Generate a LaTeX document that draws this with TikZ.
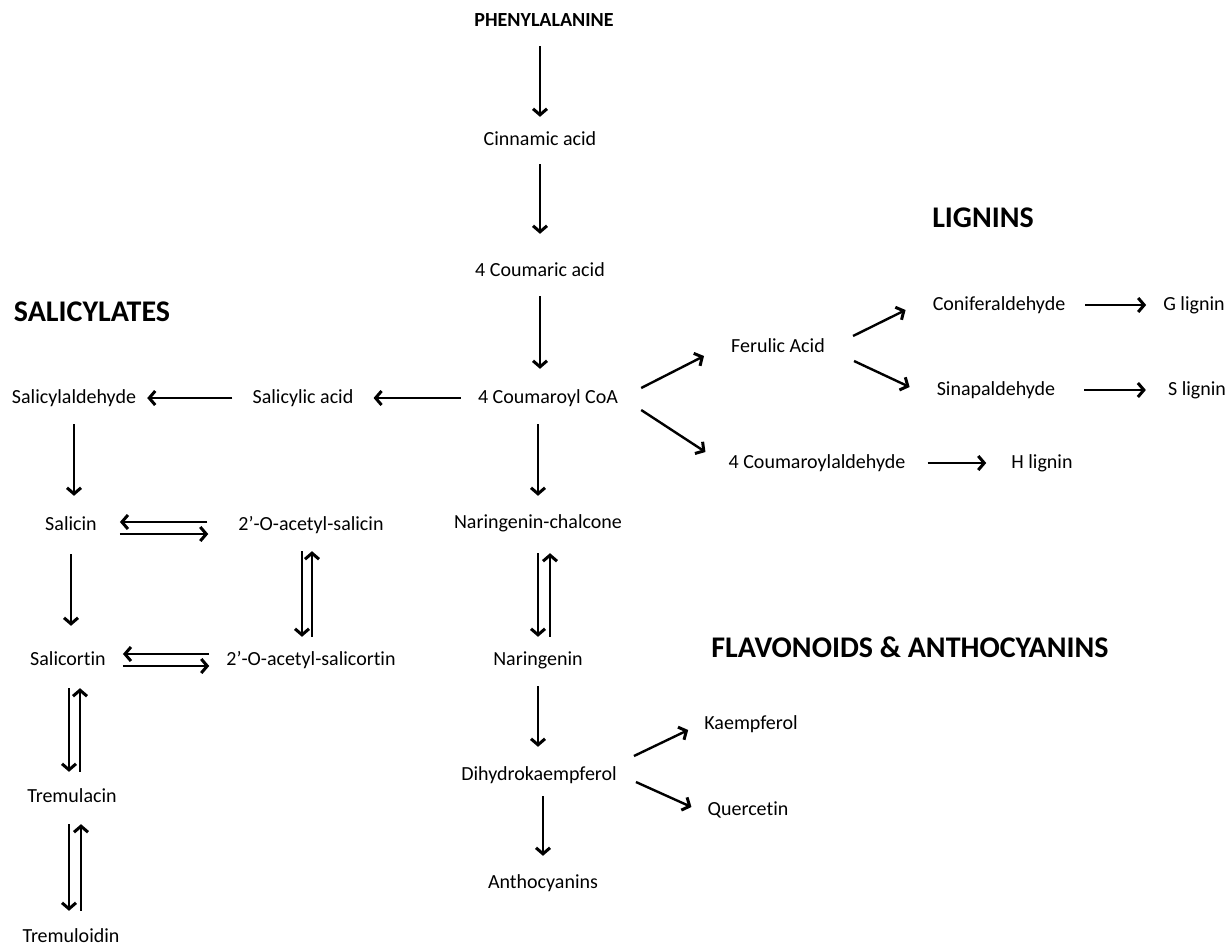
\documentclass[tikz,border=0pt]{standalone}
\usepackage{fontspec}
\setmainfont{Carlito}[Ligatures=NoCommon]
\usetikzlibrary{arrows.meta}

\begin{document}
\begin{tikzpicture}[x=0.5pt,y=-0.5pt,->,>={Straight Barb[length=3pt,width=7pt,line width=1.5pt]},
   line width=1.2pt,
   chem/.style={inner sep=0pt,text height=7pt,text depth=2pt,font=\fontsize{10}{12}\selectfont},
   head/.style={inner sep=0pt,font=\fontsize{15}{18}\selectfont\bfseries}]
\useasboundingbox (0,0) rectangle (1230,947);
% main column
\node[chem,font=\fontsize{10}{12}\selectfont\bfseries] (phe) at (544,22) {PHENYLALANINE};
\node[chem] (cin) at (540,140) {Cinnamic acid};
\node[chem] (coum) at (540,271) {4 Coumaric acid};
\node[chem] (coa) at (548,398) {4 Coumaroyl CoA};
% salicylates
\node[head] (salh) at (92,312) {SALICYLATES};
\node[chem] (salac) at (303,398) {Salicylic acid};
\node[chem] (salald) at (74,398) {Salicylaldehyde};
\node[chem] (salicin) at (71,525) {Salicin};
\node[chem] (acsal) at (311,525) {2’-O-acetyl-salicin};
\node[chem] (salcor) at (68,660) {Salicortin};
\node[chem] (acsalcor) at (311,660) {2’-O-acetyl-salicortin};
\node[chem] (tremla) at (72,797) {Tremulacin};
\node[chem] (tremld) at (71,937) {Tremuloidin};
% lignins
\node[head] (ligh) at (983,218) {LIGNINS};
\node[chem] (fer) at (778,347) {Ferulic Acid};
\node[chem] (conif) at (999,305) {Coniferaldehyde};
\node[chem] (glig) at (1194,305) {G lignin};
\node[chem] (sinap) at (996,390) {Sinapaldehyde};
\node[chem] (slig) at (1197,390) {S lignin};
\node[chem] (cald) at (817,463) {4 Coumaroylaldehyde};
\node[chem] (hlig) at (1042,463) {H lignin};
% flavonoids
\node[head] (flah) at (910,647) {FLAVONOIDS \& ANTHOCYANINS};
\node[chem] (narch) at (538,523) {Naringenin-chalcone};
\node[chem] (nar) at (538,660) {Naringenin};
\node[chem] (dhk) at (539,775) {Dihydrokaempferol};
\node[chem] (antho) at (543,883) {Anthocyanins};
\node[chem] (kaem) at (751,724) {Kaempferol};
\node[chem] (quer) at (748,810) {Quercetin};

\path
 (cin.north |- phe.south) edge[shorten <=7pt,shorten >=6.5pt] (cin.north)
 (cin.south) edge[shorten <=7pt,shorten >=13.5pt] (coum.north)
 (coum.south) edge[shorten <=7.5pt,shorten >=9.5pt] (coum.south |- coa.north)
 (coa.west) edge[shorten <=8pt,shorten >=9.5pt] (salac.east)
 (salac.west) edge[shorten <=9.5pt,shorten >=5pt] (salald.east)
 (narch.north |- coa.south) edge[shorten <=8pt,shorten >=8.5pt] (narch.north)
 ([xshift=11pt,yshift=5pt]coa.east) edge ([xshift=-13pt,yshift=-4.5pt]fer.west)
 ([xshift=11pt,yshift=-6pt]coa.east) edge ([xshift=-11pt,yshift=5.5pt]cald.west);
% lignin branch
\path
 ([xshift=13.5pt,yshift=5.5pt]fer.east) edge ([xshift=-13pt,yshift=-2.5pt]conif.west)
 ([xshift=14pt,yshift=-7pt]fer.east) edge ([xshift=-13pt,yshift=1.5pt]sinap.west)
 (conif) edge[shorten <=9.5pt,shorten >=8pt] (glig)
 (sinap) edge[shorten <=14pt,shorten >=10.5pt] (slig)
 (cald) edge[shorten <=10.5pt,shorten >=12pt] (hlig);
% salicylate branch
\path
 (salald.south) edge[shorten <=8pt,shorten >=9.5pt] (salald.south |- salicin.north)
 (salicin.south) edge[shorten <=9.5pt,shorten >=12pt] (salicin.south |- salcor.north)
 ([yshift=1.5pt]acsal.west) edge[shorten <=15pt,shorten >=11pt] ([yshift=1.5pt]salicin.east)
 ([yshift=-4.5pt]salicin.east) edge[shorten <=11pt,shorten >=14.5pt] ([yshift=-4.5pt]acsal.west)
 ([xshift=-4.5pt]acsal.south) edge[shorten <=8pt,shorten >=6.5pt] ([xshift=-4.5pt]acsalcor.north)
 ([xshift=0.5pt]acsalcor.north) edge[shorten <=6.5pt,shorten >=8pt] ([xshift=0.5pt]acsal.south)
 ([yshift=3pt]acsalcor.west) edge[shorten <=8pt,shorten >=8pt] ([yshift=3pt]salcor.east)
 ([yshift=-3pt]salcor.east) edge[shorten <=8pt,shorten >=8pt] ([yshift=-3pt]acsalcor.west)
 ([xshift=0.5pt]salcor.south) edge[shorten <=9pt,shorten >=7.5pt] ([xshift=-1.5pt]tremla.north)
 ([xshift=4pt]tremla.north) edge[shorten <=7.5pt,shorten >=9pt] ([xshift=6pt]salcor.south)
 ([xshift=-1.5pt]tremla.south) edge[shorten <=8.5pt,shorten >=8pt] ([xshift=-1pt]tremld.north)
 ([xshift=5pt]tremld.north) edge[shorten <=8pt,shorten >=8.5pt] ([xshift=4.5pt]tremla.south);
% flavonoid branch
\path
 (narch.south) edge[shorten <=10pt,shorten >=6.5pt] (nar.north)
 ([xshift=6pt]nar.north) edge[shorten <=6.5pt,shorten >=10pt] ([xshift=6pt]narch.south)
 (nar.south) edge[shorten <=8pt,shorten >=9pt] (nar.south |- dhk.north)
 (antho.north |- dhk.south) edge[shorten <=5.5pt,shorten >=8.5pt] (antho.north)
 ([xshift=8pt,yshift=9.5pt]dhk.east) edge ([xshift=-7.5pt,yshift=-3pt]kaem.west)
 ([xshift=9pt,yshift=-3.5pt]dhk.east) edge ([xshift=-7.5pt,yshift=1.5pt]quer.west);
\end{tikzpicture}
\end{document}
